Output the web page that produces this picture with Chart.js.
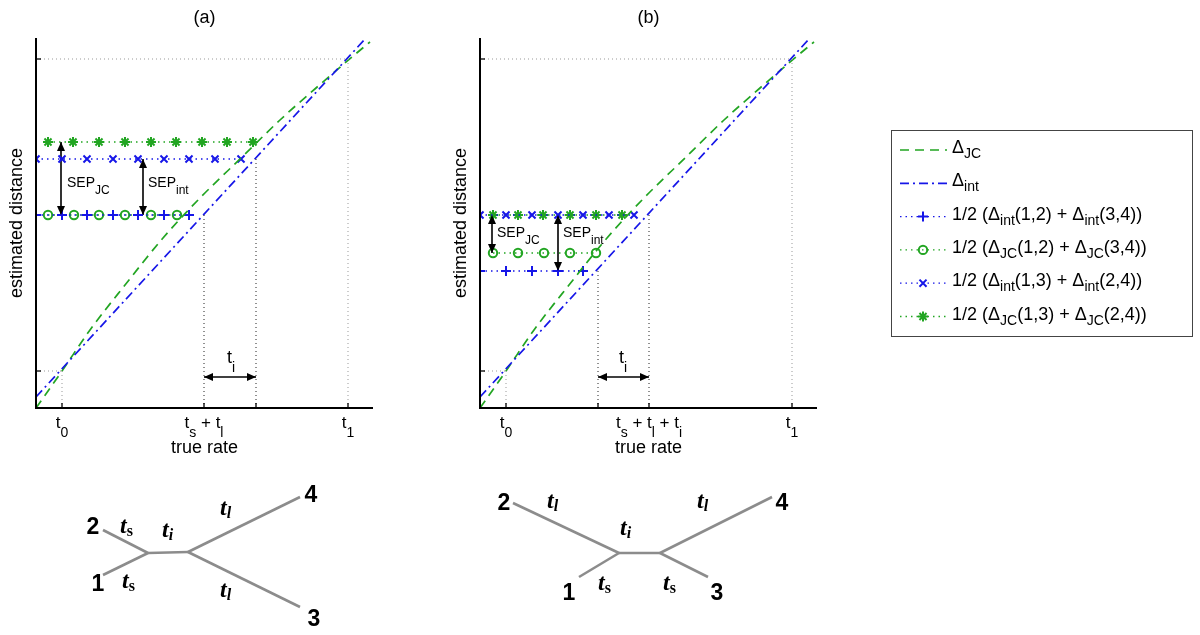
<!DOCTYPE html>
<html>
<head>
<meta charset="utf-8">
<script src="https://cdn.jsdelivr.net/npm/chart.js@4.4.1/dist/chart.umd.min.js"></script>
<style>
  body { margin: 0; background: #fff; }
  #wrap { position: relative; width: 1200px; height: 635px; overflow: hidden; }
  canvas { position: absolute; }
</style>
</head>
<body>
<div id="wrap">
  <canvas id="chartA" width="400" height="460" style="left:0;top:0"></canvas>
  <canvas id="chartB" width="756" height="460" style="left:444px;top:0"></canvas>
  <canvas id="trees" width="840" height="175" style="left:0;top:460px"></canvas>
</div>
<script>
// ---- data (plot units: true rate on x, estimated distance on y) ----
const tickT0 = 26, tickT1 = 312;
const levelY0 = 37, levelY1 = 349;
const yTicks = [levelY0, levelY1];

// Delta_JC curve and Delta_int line, same in both panels
const jcRate = [0, 26, 54, 89, 127, 164, 205, 244, 280, 316, 334];
const jcDist = [0, 37, 78, 123, 170, 210, 250, 288, 320, 351, 366];
const intRate = [0, 330];
const intDist = [11, 370];

// panel (a)
const aTickX = [26, 168, 220, 312];
const aTickText = ['t_0', 't_s + t_l', '', 't_1'];
const aDropX = [168, 220];
const aDropTop = [193, 249];
const aPlusX = [0, 26, 51, 77, 102, 128, 153];
const aPlusY = 193;
const aCircX = [12, 38, 63, 89, 115, 141];
const aCircY = 193;
const aCrossX = [0, 26, 51, 77, 102, 128, 153, 179, 205];
const aCrossY = 249;
const aStarX = [12, 37, 63, 89, 115, 140, 166, 191, 217];
const aStarY = 266;
const aArrowX = [[25, 25], [107, 107], [168, 220]];
const aArrowY = [[266, 193], [249, 193], [31, 31]];
const aNoteText = ['SEP_{JC}', 'SEP_{int}', 't_i'];
const aNoteX = [31, 112, 191];
const aNoteY = [221, 221, 45];

// panel (b)
const bTickX = [26, 118, 169, 312];
const bTickText = ['t_0', '', 't_s + t_l + t_i', 't_1'];
const bDropX = [118, 169];
const bDropTop = [137, 193];
const bPlusX = [0, 26, 52, 78, 103];
const bPlusY = 137;
const bCircX = [13, 38, 64, 90, 116];
const bCircY = 155;
const bCrossX = [0, 26, 52, 78, 103, 129, 154];
const bCrossY = 193;
const bStarX = [13, 38, 63, 90, 116, 142];
const bStarY = 193;
const bArrowX = [[12, 12], [78, 78], [118, 169]];
const bArrowY = [[193, 155], [193, 137], [31, 31]];
const bNoteText = ['SEP_{JC}', 'SEP_{int}', 't_i'];
const bNoteX = [17, 83, 139];
const bNoteY = [171, 171, 45];

// trees (diagram units), nodes: leaf 1, 2, 3, 4, inner u, inner v
const treeEdges = [[0, 4], [1, 4], [4, 5], [5, 2], [5, 3]];
const treeAX = [103, 103, 300, 300, 148, 188];
const treeAY = [60, 105, 28, 138, 82, 83];
const treeBX = [579, 513, 708, 772, 619, 660];
const treeBY = [58, 132, 58, 138, 82, 82];
const leafText = ['1', '2', '3', '4'];
const treeANumX = [98, 93, 314, 311];
const treeANumY = [44, 101, 9, 133];
const treeBNumX = [569, 504, 717, 782];
const treeBNumY = [35, 125, 35, 125];
const treeABranchText = ['t_s', 't_s', 't_i', 't_l', 't_l'];
const treeABranchX = [120, 122, 162, 220, 220];
const treeABranchY = [102, 47, 98, 120, 38];
const treeBBranchText = ['t_s', 't_l', 't_i', 't_s', 't_l'];
const treeBBranchX = [598, 547, 620, 663, 697];
const treeBBranchY = [45, 127, 100, 45, 127];

const GREEN = 'rgb(34,165,34)';
const BLUE = 'rgb(22,22,232)';
const SANS = '"Liberation Sans", Arial, sans-serif';
const SERIF = '"Liberation Serif", "Times New Roman", serif';

Chart.defaults.font.family = SANS;

// split "SEP_{JC}" style strings into [text, isSub] parts
function texParts(s) {
    const out = [];
    let buf = '', i = 0;
    while (i < s.length) {
        if (s[i] === '_') {
            if (buf) { out.push([buf, false]); buf = ''; }
            if (s[i + 1] === '{') {
                const j = s.indexOf('}', i);
                out.push([s.slice(i + 2, j), true]);
                i = j + 1;
            } else {
                out.push([s[i + 1], true]);
                i += 2;
            }
        } else {
            buf += s[i];
            i++;
        }
    }
    if (buf) out.push([buf, false]);
    return out;
}

function drawTex(ctx, s, x, y, f) {
    const parts = texParts(s);
    let w = 0;
    parts.forEach(p => {
        ctx.font = p[1] ? (f.subFor ? f.subFor(p[0]) : f.sub) : f.main;
        p.w = ctx.measureText(p[0]).width;
        w += p.w;
    });
    let cx = f.align === 'center' ? x - w / 2 : x;
    ctx.textAlign = 'left';
    ctx.textBaseline = 'alphabetic';
    parts.forEach(p => {
        ctx.font = p[1] ? (f.subFor ? f.subFor(p[0]) : f.sub) : f.main;
        ctx.fillText(p[0], cx, p[1] ? y + f.drop : y);
        cx += p.w;
    });
}

function pts(xs, ys) {
    return xs.map((v, i) => ({ x: v, y: Array.isArray(ys) ? ys[i] : ys }));
}

function dotted(xs, ys, color) {
    return { data: pts(xs, ys), showLine: true, borderColor: color, borderWidth: 1, borderDash: [1, 3], pointRadius: 0 };
}

function curve(xs, ys, color, dash, label, rank) {
    return {
        data: pts(xs, ys), showLine: true, borderColor: color, borderWidth: 1.7, borderDash: dash,
        pointRadius: 0, cubicInterpolationMode: 'monotone', legendText: label, legendRank: rank
    };
}

function markerSet(xs, level, color, style, radius, label, rank) {
    return {
        data: pts(xs, level), showLine: true, borderColor: color, borderWidth: 1.3, borderDash: [1.5, 4],
        backgroundColor: 'transparent', pointStyle: style, pointRadius: radius, pointBorderWidth: 2,
        pointBorderColor: color, pointBackgroundColor: 'transparent', legendText: label, legendRank: rank
    };
}

function arrowSet(xs, ys) {
    return { data: pts(xs, ys), showLine: true, borderColor: '#000', borderWidth: 1.6, pointRadius: 0, arrow: true };
}

function arrowHead(ctx, from, to) {
    const ang = Math.atan2(to.y - from.y, to.x - from.x);
    const len = 9, half = 4;
    ctx.beginPath();
    ctx.moveTo(to.x, to.y);
    ctx.lineTo(to.x - len * Math.cos(ang) + half * Math.sin(ang), to.y - len * Math.sin(ang) - half * Math.cos(ang));
    ctx.lineTo(to.x - len * Math.cos(ang) - half * Math.sin(ang), to.y - len * Math.sin(ang) + half * Math.cos(ang));
    ctx.closePath();
    ctx.fill();
}

function line(ctx, x1, y1, x2, y2) {
    ctx.beginPath();
    ctx.moveTo(x1, y1);
    ctx.lineTo(x2, y2);
    ctx.stroke();
}

function panelDecor(p) {
    return {
        id: 'decor',
        afterDatasetsDraw(chart) {
            const ctx = chart.ctx, a = chart.chartArea;
            const sx = chart.scales.x, sy = chart.scales.y;
            ctx.save();
            // arrow heads on the arrow datasets
            ctx.fillStyle = '#000';
            chart.data.datasets.forEach((ds, i) => {
                if (!ds.arrow) return;
                const el = chart.getDatasetMeta(i).data;
                arrowHead(ctx, el[0], el[1]);
                arrowHead(ctx, el[1], el[0]);
            });
            // axes (left + bottom, ticks pointing in)
            ctx.strokeStyle = '#000';
            ctx.lineWidth = 2;
            ctx.beginPath();
            ctx.moveTo(a.left, a.top);
            ctx.lineTo(a.left, a.bottom);
            ctx.lineTo(a.right, a.bottom);
            ctx.stroke();
            ctx.lineWidth = 1.3;
            p.tickX.forEach(v => { const px = sx.getPixelForValue(v); line(ctx, px, a.bottom, px, a.bottom - 5); });
            yTicks.forEach(v => { const py = sy.getPixelForValue(v); line(ctx, a.left, py, a.left + 5, py); });

            // tick labels
            ctx.fillStyle = '#000';
            p.tickText.forEach((t, i) => {
                if (!t) return;
                drawTex(ctx, t, sx.getPixelForValue(p.tickX[i]), a.bottom + 20,
                    { main: '17px ' + SANS, sub: '14px ' + SANS, drop: 9, align: 'center' });
            });
            const mid = (a.left + a.right) / 2;
            ctx.textAlign = 'center';
            ctx.textBaseline = 'alphabetic';
            ctx.font = '18px ' + SANS;
            ctx.fillText('true rate', mid, a.bottom + 45);
            ctx.fillText(p.title, mid, a.top - 15);
            ctx.save();
            ctx.translate(a.left - 19, (a.top + a.bottom) / 2);
            ctx.rotate(-Math.PI / 2);
            ctx.textBaseline = 'middle';
            ctx.fillText('estimated distance', 0, 0);
            ctx.restore();

            // notes next to arrows
            p.noteText.forEach((t, i) => {
                const big = t === 't_i';
                drawTex(ctx, t, sx.getPixelForValue(p.noteX[i]), sy.getPixelForValue(p.noteY[i]),
                    big ? { main: '18px ' + SANS, sub: '14px ' + SANS, drop: 9 }
                        : { main: '14px ' + SANS, sub: '12px ' + SANS, drop: 7 });
            });

            if (p.legend) drawLegend(chart, a);
            ctx.restore();
        }
    };
}

function drawLegend(chart, a) {
    const ctx = chart.ctx;
    const box = { x: a.right + 74, y: 130, w: 301, h: 206 };
    ctx.fillStyle = '#fff';
    ctx.fillRect(box.x, box.y, box.w, box.h);
    ctx.strokeStyle = '#444';
    ctx.lineWidth = 1;
    ctx.strokeRect(box.x + 0.5, box.y + 0.5, box.w, box.h);
    const items = chart.data.datasets.filter(d => d.legendText).sort((p, q) => p.legendRank - q.legendRank);
    items.forEach((d, i) => {
        const y = box.y + 20 + i * 33.3;
        ctx.save();
        ctx.strokeStyle = d.borderColor;
        ctx.lineWidth = d.borderWidth;
        ctx.setLineDash(d.borderDash || []);
        line(ctx, box.x + 9, y, box.x + 56, y);
        ctx.restore();
        if (d.pointRadius > 0) {
            ctx.save();
            ctx.strokeStyle = d.pointBorderColor;
            ctx.fillStyle = 'transparent';
            ctx.lineWidth = d.pointBorderWidth;
            Chart.helpers.drawPoint(ctx, { pointStyle: d.pointStyle, radius: d.pointRadius, rotation: 0, borderWidth: d.pointBorderWidth }, box.x + 32, y);
            ctx.restore();
        }
        ctx.fillStyle = '#000';
        drawTex(ctx, d.legendText, box.x + 61, y + 3, { main: '18px ' + SANS, sub: '14px ' + SANS, drop: 5 });
    });
}

function buildPanel(canvasId, p, padRight) {
    const ds = [];
    p.dropX.forEach((v, i) => ds.push(dotted([v, v], [0, p.dropTop[i]], '#222')));
    ds.push(dotted([0, tickT0], [levelY0, levelY0], '#999'));
    ds.push(dotted([tickT0, tickT0], [0, levelY0], '#999'));
    ds.push(dotted([0, tickT1], [levelY1, levelY1], '#999'));
    ds.push(dotted([tickT1, tickT1], [0, levelY1], '#999'));
    ds.push(curve(intRate, intDist, BLUE, [9, 4, 2, 4], '\u0394_{int}', 2));
    ds.push(curve(jcRate, jcDist, GREEN, [9, 6], '\u0394_{JC}', 1));
    ds.push(markerSet(p.plusX, p.plusY, BLUE, 'cross', 5, '1/2 (\u0394_{int}(1,2) + \u0394_{int}(3,4))', 3));
    ds.push(markerSet(p.circX, p.circY, GREEN, 'circle', 4.2, '1/2 (\u0394_{JC}(1,2) + \u0394_{JC}(3,4))', 4));
    ds.push(markerSet(p.crossX, p.crossY, BLUE, 'crossRot', 5, '1/2 (\u0394_{int}(1,3) + \u0394_{int}(2,4))', 5));
    ds.push(markerSet(p.starX, p.starY, GREEN, 'star', 5, '1/2 (\u0394_{JC}(1,3) + \u0394_{JC}(2,4))', 6));
    p.arrowX.forEach((xs, i) => ds.push(arrowSet(xs, p.arrowY[i])));

    return new Chart(document.getElementById(canvasId), {
        type: 'scatter',
        data: { datasets: ds },
        options: {
            responsive: false,
            animation: false,
            devicePixelRatio: 1,
            layout: { padding: { left: 36, right: padRight, top: 38, bottom: 52 } },
            scales: {
                x: { type: 'linear', min: 0, max: 337, display: false },
                y: { type: 'linear', min: 0, max: 370, display: false }
            },
            plugins: { legend: { display: false }, tooltip: { enabled: false } }
        },
        plugins: [panelDecor(p)]
    });
}

buildPanel('chartA', {
    title: '(a)', tickX: aTickX, tickText: aTickText, dropX: aDropX, dropTop: aDropTop,
    plusX: aPlusX, plusY: aPlusY, circX: aCircX, circY: aCircY, crossX: aCrossX, crossY: aCrossY,
    starX: aStarX, starY: aStarY, arrowX: aArrowX, arrowY: aArrowY,
    noteText: aNoteText, noteX: aNoteX, noteY: aNoteY, legend: false
}, 27);

buildPanel('chartB', {
    title: '(b)', tickX: bTickX, tickText: bTickText, dropX: bDropX, dropTop: bDropTop,
    plusX: bPlusX, plusY: bPlusY, circX: bCircX, circY: bCircY, crossX: bCrossX, crossY: bCrossY,
    starX: bStarX, starY: bStarY, arrowX: bArrowX, arrowY: bArrowY,
    noteText: bNoteText, noteX: bNoteX, noteY: bNoteY, legend: true
}, 383);

// ---- tree diagrams ----
const treeDatasets = [];
[[treeAX, treeAY], [treeBX, treeBY]].forEach(([tx, ty]) => {
    treeEdges.forEach(e => {
        treeDatasets.push({
            data: [{ x: tx[e[0]], y: ty[e[0]] }, { x: tx[e[1]], y: ty[e[1]] }],
            showLine: true, borderColor: '#8c8c8c', borderWidth: 2.6, pointRadius: 0
        });
    });
});

const treeLabels = {
    id: 'treeLabels',
    afterDatasetsDraw(chart) {
        const ctx = chart.ctx, sx = chart.scales.x, sy = chart.scales.y;
        ctx.save();
        ctx.fillStyle = '#000';
        ctx.textAlign = 'center';
        ctx.textBaseline = 'alphabetic';
        ctx.font = 'bold 23px ' + SANS;
        leafText.forEach((t, i) => {
            ctx.fillText(t, sx.getPixelForValue(treeANumX[i]), sy.getPixelForValue(treeANumY[i]));
            ctx.fillText(t, sx.getPixelForValue(treeBNumX[i]), sy.getPixelForValue(treeBNumY[i]));
        });
        const f = {
            main: 'italic bold 24px ' + SERIF,
            subFor: s => (s === 's' ? 'bold 16px ' : 'italic bold 16px ') + SERIF,
            drop: 3
        };
        treeABranchText.forEach((t, i) => drawTex(ctx, t, sx.getPixelForValue(treeABranchX[i]), sy.getPixelForValue(treeABranchY[i]), f));
        treeBBranchText.forEach((t, i) => drawTex(ctx, t, sx.getPixelForValue(treeBBranchX[i]), sy.getPixelForValue(treeBBranchY[i]), f));
        ctx.restore();
    }
};

new Chart(document.getElementById('trees'), {
    type: 'scatter',
    data: { datasets: treeDatasets },
    options: {
        responsive: false,
        animation: false,
        devicePixelRatio: 1,
        layout: { padding: 0 },
        scales: {
            x: { type: 'linear', min: 0, max: 840, display: false },
            y: { type: 'linear', min: 0, max: 175, display: false }
        },
        plugins: { legend: { display: false }, tooltip: { enabled: false } }
    },
    plugins: [treeLabels]
});
</script>
</body>
</html>
